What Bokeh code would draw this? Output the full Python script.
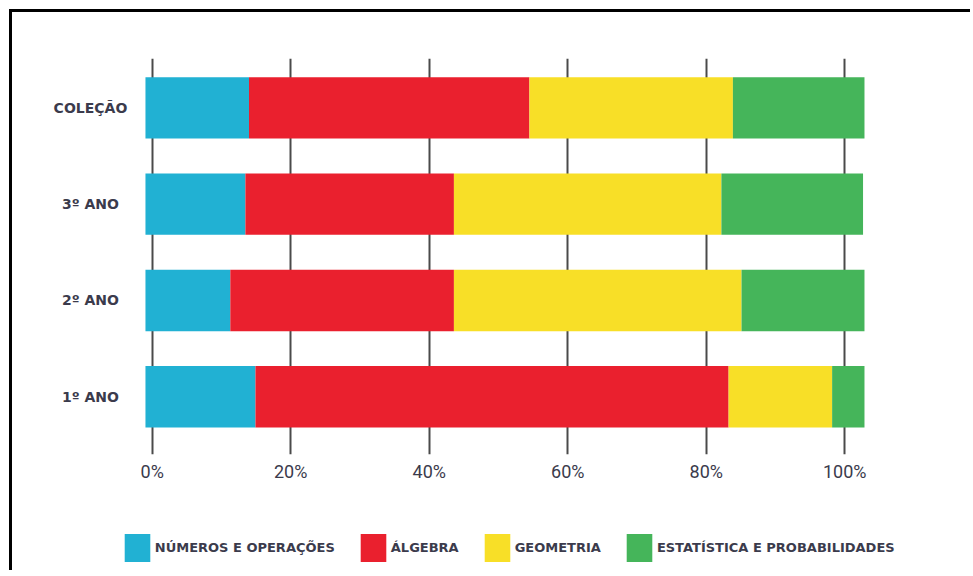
import numpy as np
from bokeh.plotting import figure
from bokeh.layouts import column
from bokeh.models import (ColumnDataSource, Range1d, LinearAxis, FixedTicker, Grid,
                          PrintfTickFormatter, Legend, LegendItem)
from bokeh.core.properties import value
from bokeh.embed import file_html
from bokeh.resources import INLINE

# ---- data (percent of content per year) ----
categories = ["1º ANO", "2º ANO", "3º ANO", "COLEÇÃO"]          # bottom to top
series = ["NÚMEROS E OPERAÇÕES", "ÁLGEBRA", "GEOMETRIA", "ESTATÍSTICA E PROBABILIDADES"]
numeros = [15.3, 11.8, 13.9, 14.4]
algebra = [65.8, 31.1, 29.0, 39.0]
geometria = [14.4, 40.0, 37.2, 28.3]
estatistica = [4.5, 17.1, 19.7, 18.3]
tick_values = [0, 20, 40, 60, 80, 100]

colors = ["#21B1D3", "#EA202E", "#F8DF27", "#45B55A"]
text_color = "#3b3b4c"

keys = ["num", "alg", "geo", "est"]
source = ColumnDataSource(dict(
    y=list(range(len(categories))),
    cat=categories,
    num=numeros, alg=algebra, geo=geometria, est=estatistica,
))

p = figure(width=958, height=488,
           x_range=Range1d(-17.38, 106.4), y_range=Range1d(-0.599, 3.512),
           output_backend="svg", toolbar_location=None,
           x_axis_location=None, y_axis_location=None,
           min_border_left=8, min_border_right=60,
           min_border_top=46, min_border_bottom=46)
p.outline_line_color = None
p.background_fill_color = "white"
p.border_fill_color = "white"
p.xgrid.visible = False
p.ygrid.visible = False

# percentage axis (the printed scale of the original)
p.extra_x_ranges = {"pct": Range1d(-19.016, 109.49)}
xaxis = LinearAxis(x_range_name="pct", ticker=FixedTicker(ticks=tick_values),
                   formatter=PrintfTickFormatter(format="%d%%"))
xaxis.axis_line_color = None
xaxis.major_tick_line_color = None
xaxis.minor_tick_line_color = None
xaxis.major_label_text_font = "Roboto"
xaxis.major_label_text_font_size = "18px"
xaxis.major_label_text_color = text_color
xaxis.major_label_standoff = 0
p.add_layout(xaxis, "below")

grid = Grid(dimension=0, ticker=xaxis.ticker, x_range_name="pct",
            grid_line_color="#4a4a4a", grid_line_width=2)
p.add_layout(grid)

# stacked bars
p.hbar_stack(keys, y="y", height=0.637, fill_color=colors, line_color=None, source=source)

# category labels, centred left of the bars
p.text(x=-7.65, y="y", text="cat", source=source, text_align="center",
       text_baseline="middle", text_font=value("DejaVu Sans"), text_font_style="bold",
       text_font_size="14px", text_color=text_color)

# ---- legend strip ----
leg = figure(width=958, height=70, x_range=Range1d(0, 1), y_range=Range1d(0, 1),
             output_backend="svg", toolbar_location=None,
             x_axis_location=None, y_axis_location=None,
             min_border_left=8, min_border_right=60, min_border_top=0, min_border_bottom=0)
leg.outline_line_color = None
leg.xgrid.visible = False
leg.ygrid.visible = False

swatches = leg.hbar_stack(keys, y="y", height=0.5, source=source,
                          fill_color=colors, line_color=None, visible=False)
items = [LegendItem(label=name, renderers=[r]) for name, r in zip(series, swatches)]

legend = Legend(items=items, orientation="horizontal", location=(100.8, 5.5),
                glyph_width=32, glyph_height=35, label_standoff=2, spacing=22,
                padding=0, margin=0, border_line_color=None, background_fill_alpha=0,
                label_text_font="DejaVu Sans", label_text_font_style="bold",
                label_text_font_size="13px", label_text_color=text_color,
                inactive_fill_alpha=0)
leg.add_layout(legend)

layout = column(p, leg, spacing=0,
                styles={"border-left": "3px solid #000", "border-top": "3px solid #000",
                        "margin-left": "9px", "margin-top": "9px"})

open("out.html", "w", encoding="utf-8").write(file_html(layout, INLINE))
